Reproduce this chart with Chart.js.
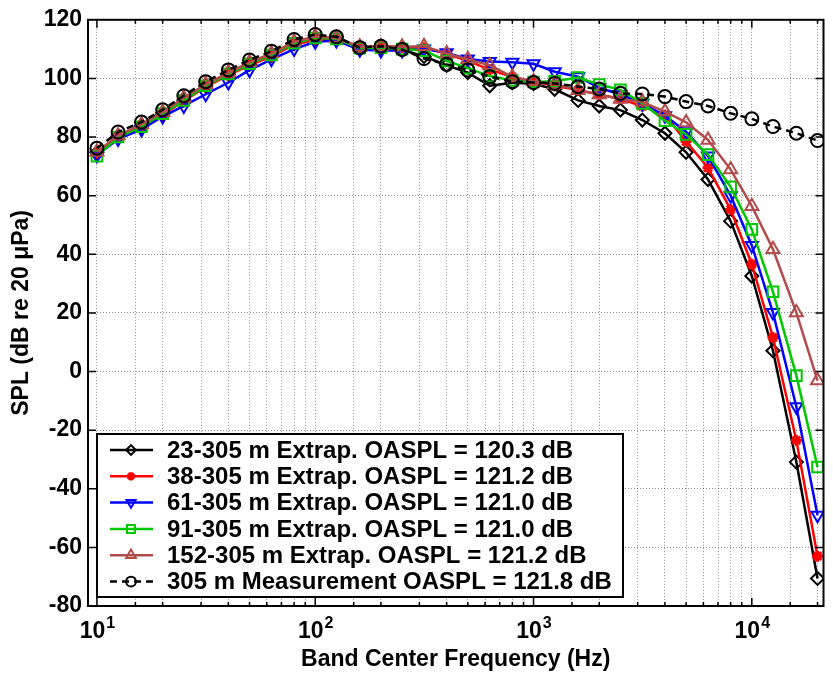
<!DOCTYPE html>
<html>
<head>
<meta charset="utf-8">
<title>SPL spectra</title>
<script src="https://cdn.jsdelivr.net/npm/chart.js@4.4.1/dist/chart.umd.min.js"></script>
<style>
  html, body { margin: 0; padding: 0; background: #fff; }
  #wrap { width: 833px; height: 674px; }
</style>
</head>
<body>
<div id="wrap"><canvas id="splChart" width="833" height="674"></canvas></div>
<script>
// one-third octave band centre frequencies (Hz)
const freqs = [10, 12.5, 16, 20, 25, 31.5, 40, 50, 63, 80, 100, 125, 160, 200, 250, 315, 400, 500,
  630, 800, 1000, 1250, 1600, 2000, 2500, 3150, 4000, 5000, 6300, 8000, 10000, 12500, 16000, 20000];

// SPL values (dB re 20 uPa)
const spl23 = [74.7, 80.2, 83.6, 87.8, 92.6, 97.4, 101.4, 104.8, 107.8, 111.8, 113.5, 113.2, 110.0, 110.2, 109.8, 107.5, 104.5, 102.0,
  97.5, 98.5, 98.2, 96.3, 92.5, 90.6, 89.2, 85.8, 81.3, 74.8, 65.5, 51.3, 32.6, 7.1, -30.9, -70.6];
const spl38 = [74.4, 79.9, 83.3, 87.5, 92.3, 97.1, 101.1, 104.5, 107.5, 111.5, 113.2, 113.4, 110.5, 111.2, 110.5, 110.5, 108.3, 106.0,
  103.0, 100.5, 99.0, 97.5, 96.0, 94.5, 93.0, 90.5, 87.5, 78.5, 69.5, 55.3, 36.6, 11.6, -23.5, -63.0];
const spl61 = [73.8, 79.3, 82.6, 87.0, 90.6, 94.6, 98.6, 102.8, 106.5, 110.0, 112.5, 112.9, 109.8, 109.5, 109.5, 110.0, 108.8, 106.6,
  105.8, 105.5, 105.0, 102.3, 100.6, 96.8, 94.5, 91.5, 87.3, 81.8, 73.5, 60.0, 43.0, 20.1, -12.0, -49.0];
const spl91 = [73.5, 80.0, 83.5, 88.0, 92.5, 97.5, 101.5, 105.0, 108.0, 112.0, 113.8, 113.5, 110.3, 110.5, 110.0, 109.5, 106.0, 103.5,
  100.8, 99.3, 98.8, 99.0, 100.3, 97.9, 96.1, 91.5, 85.6, 80.9, 74.0, 63.0, 48.5, 27.2, -1.4, -32.6];
const spl152 = [75.0, 80.5, 84.3, 88.5, 93.3, 98.0, 102.0, 105.5, 108.5, 112.5, 114.3, 113.8, 110.8, 111.0, 110.8, 111.0, 108.5, 106.5,
  104.5, 100.5, 99.0, 98.0, 96.0, 94.5, 93.0, 92.0, 88.7, 85.0, 79.0, 68.9, 56.4, 41.7, 20.1, -3.1];
const splMeas = [76.2, 81.7, 85.1, 89.3, 94.1, 98.9, 102.9, 106.3, 109.3, 113.3, 115.0, 114.2, 110.5, 111.0, 109.9, 106.8, 104.8, 102.9,
  100.6, 98.9, 98.6, 98.3, 97.2, 96.4, 94.9, 94.7, 93.8, 92.1, 90.6, 88.1, 86.2, 83.6, 81.3, 78.8];

const seriesLabels = [
  '23-305 m Extrap. OASPL = 120.3 dB',
  '38-305 m Extrap. OASPL = 121.2 dB',
  '61-305 m Extrap. OASPL = 121.0 dB',
  '91-305 m Extrap. OASPL = 121.0 dB',
  '152-305 m Extrap. OASPL = 121.2 dB',
  '305 m Measurement OASPL = 121.8 dB'
];

const xTickLabels = [10, 100, 1000, 10000];
const xExponents = ['1', '2', '3', '4'];

const FONT = "'Liberation Sans', Arial, sans-serif";

function toXY(values) {
  return freqs.map((f, i) => ({ x: f, y: values[i] }));
}

function series(label, values, color, style, extra) {
  return Object.assign({
    label: label,
    data: toXY(values),
    borderColor: color,
    borderWidth: 2.5,
    pointStyle: style,
    pointRadius: 6,
    pointHoverRadius: 6,
    pointBorderWidth: 2,
    pointBorderColor: color,
    pointBackgroundColor: 'rgba(0,0,0,0)',
    tension: 0,
    fill: false
  }, extra || {});
}

const datasets = [
  series(seriesLabels[0], spl23, '#000000', 'rectRot', { order: 5, pointRadius: 6.5 }),
  series(seriesLabels[1], spl38, '#ff0000', 'star', { order: 4, pointRadius: 5.5, pointBorderWidth: 3 }),
  series(seriesLabels[2], spl61, '#0000ff', 'triangle', { order: 3, pointRotation: 180, pointRadius: 7 }),
  series(seriesLabels[3], spl91, '#00c800', 'rect', { order: 2, pointRadius: 7.5 }),
  series(seriesLabels[4], spl152, '#b24c4c', 'triangle', { order: 1, pointRadius: 7.5 }),
  series(seriesLabels[5], splMeas, '#000000', 'circle', { order: 0, borderDash: [7, 5], pointRadius: 6.5 })
];

// MATLAB style box, inward ticks, 10^n labels and the legend
const matlabFrame = {
  id: 'matlabFrame',
  afterDatasetsDraw(chart) {
    const ctx = chart.ctx;
    const area = chart.chartArea;
    const xs = chart.scales.x;
    const ys = chart.scales.y;
    ctx.save();

    // ticks on all four sides
    ctx.strokeStyle = '#000';
    ctx.lineWidth = 1.5;
    ctx.beginPath();
    xs.ticks.forEach(t => {
      if (t.value <= xs.min || t.value >= xs.max) return;
      const px = xs.getPixelForValue(t.value);
      const len = xTickLabels.includes(t.value) ? 8 : 4;
      ctx.moveTo(px, area.bottom); ctx.lineTo(px, area.bottom - len);
      ctx.moveTo(px, area.top); ctx.lineTo(px, area.top + len);
    });
    ys.ticks.forEach(t => {
      if (t.value <= ys.min || t.value >= ys.max) return;
      const py = ys.getPixelForValue(t.value);
      ctx.moveTo(area.left, py); ctx.lineTo(area.left + 8, py);
      ctx.moveTo(area.right, py); ctx.lineTo(area.right - 8, py);
    });
    ctx.stroke();

    ctx.lineWidth = 2;
    ctx.strokeRect(area.left, area.top, area.right - area.left, area.bottom - area.top);

    // x tick labels 10^n
    ctx.fillStyle = '#000';
    ctx.textBaseline = 'alphabetic';
    ctx.textAlign = 'left';
    xTickLabels.forEach((v, i) => {
      const px = xs.getPixelForValue(v);
      ctx.font = 'bold 23px ' + FONT;
      const wBase = ctx.measureText('10').width;
      ctx.font = 'bold 16px ' + FONT;
      const wExp = ctx.measureText(xExponents[i]).width;
      const x0 = px - (wBase + wExp) / 2;
      ctx.font = 'bold 23px ' + FONT;
      ctx.fillText('10', x0, area.bottom + 32);
      ctx.font = 'bold 16px ' + FONT;
      ctx.fillText(xExponents[i], x0 + wBase + 1, area.bottom + 22);
    });

    // legend
    const lx = area.left + 9, ly = area.bottom - 172, lw = 526, lh = 163;
    ctx.fillStyle = '#fff';
    ctx.fillRect(lx, ly, lw, lh);
    ctx.lineWidth = 2;
    ctx.strokeStyle = '#000';
    ctx.strokeRect(lx, ly, lw, lh);
    const rowH = 26.3;
    chart.data.datasets.forEach((ds, i) => {
      const cy = ly + 16 + i * rowH;
      ctx.save();
      ctx.strokeStyle = ds.borderColor;
      ctx.lineWidth = ds.borderWidth;
      ctx.setLineDash(ds.borderDash || []);
      ctx.beginPath();
      ctx.moveTo(lx + 13, cy);
      ctx.lineTo(lx + 56, cy);
      ctx.stroke();
      ctx.setLineDash([]);
      ctx.fillStyle = 'rgba(0,0,0,0)';
      ctx.lineWidth = ds.pointBorderWidth;
      Chart.helpers.drawPoint(ctx, {
        pointStyle: ds.pointStyle,
        rotation: ds.pointRotation || 0,
        radius: ds.pointRadius * 0.75,
        borderWidth: ds.pointBorderWidth
      }, lx + 34, cy);
      ctx.restore();
      ctx.fillStyle = '#000';
      ctx.font = 'bold 24px ' + FONT;
      ctx.textBaseline = 'middle';
      ctx.textAlign = 'left';
      ctx.fillText(ds.label, lx + 70, cy + 1);
    });
    ctx.restore();
  }
};

new Chart(document.getElementById('splChart'), {
  type: 'line',
  data: { datasets: datasets },
  plugins: [matlabFrame],
  options: {
    responsive: false,
    animation: false,
    devicePixelRatio: 1,
    layout: { padding: { top: 18, right: 2.5, bottom: 0, left: 0 } },
    plugins: {
      legend: { display: false },
      tooltip: { enabled: false }
    },
    scales: {
      x: {
        type: 'logarithmic',
        min: 9.1,
        max: 21300,
        afterFit: s => { s.height = 68; },
        ticks: { display: false, autoSkip: false },
        grid: { color: 'rgba(0,0,0,0.45)', lineWidth: 1, drawTicks: false },
        border: { display: false, dash: [1, 2] },
        title: {
          display: true,
          text: 'Band Center Frequency (Hz)',
          color: '#000',
          font: { family: FONT, size: 23, weight: 'bold' },
          padding: { top: 0, bottom: 1 }
        }
      },
      y: {
        min: -80,
        max: 120,
        afterFit: s => { s.width = 88; },
        ticks: {
          stepSize: 20,
          color: '#000',
          padding: 6,
          font: { family: FONT, size: 23, weight: 'bold' }
        },
        grid: { color: 'rgba(0,0,0,0.45)', lineWidth: 1, drawTicks: false },
        border: { display: false, dash: [1, 2] },
        title: {
          display: true,
          text: 'SPL (dB re 20 μPa)',
          color: '#000',
          font: { family: FONT, size: 23, weight: 'bold' },
          padding: { top: 8, bottom: 0 }
        }
      }
    }
  }
});
</script>
</body>
</html>
